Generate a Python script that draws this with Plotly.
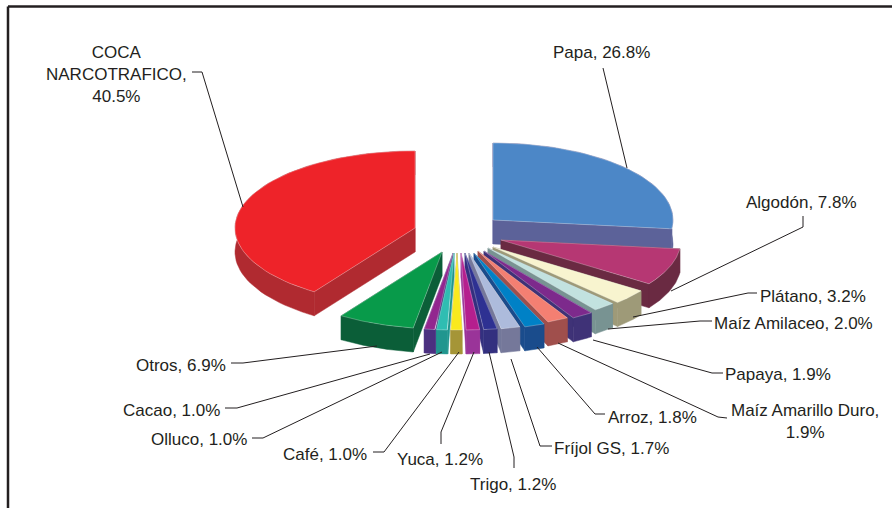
#!/usr/bin/env python
# -*- coding: utf-8 -*-
import numpy as np
from plotly import graph_objs as go

# clockwise from twelve o'clock
CROPS = ['Papa', 'Algodón', 'Plátano', 'Maíz Amilaceo', 'Papaya', 'Maíz Amarillo Duro',
         'Arroz', 'Fríjol GS', 'Trigo', 'Yuca', 'Café', 'Olluco', 'Cacao', 'Otros',
         'COCA NARCOTRAFICO']
SHARES = [26.8, 7.8, 3.2, 2.0, 1.9, 1.9, 1.8, 1.7, 1.2, 1.2, 1.0, 1.0, 1.0, 6.9, 40.5]

TOP_COLORS = ['#4C87C7', '#B63773', '#F8F4CF', '#C2E2DF', '#7D2A8C', '#F47F72', '#0081C6',
              '#ADBBDC', '#2E3192', '#B51F8E', '#F9E91E', '#2FBDB2', '#92278F', '#089A4A',
              '#EE2329']
SIDE_COLORS = ['#5C6299', '#6A2A42', '#9E9A78', '#789392', '#3F3277', '#A04F4C', '#1A4C8C',
               '#75789A', '#33307F', '#9A3499', '#A59537', '#21968F', '#4B3080', '#0B5E38',
               '#B02A30']

# how far each slice is pulled out of the pie, in pixels
PULL_X = [37, 45, 37, 32, 28, 22, 18, 13, 9, 5, 1, -2, -3, -14, -41]
PULL_Y = [-30, -10, -3, -2, 1, 1, 3, 3, 3, 3, 3, 3, 3, 2, -22]

CENTER_X, CENTER_Y = 456, 250
RADIUS_X, RADIUS_Y = 180, 77
DEPTH = 24

LABEL_TEXT = {
    'COCA NARCOTRAFICO': 'COCA<br>NARCOTRAFICO,<br>40.5%',
    'Maíz Amarillo Duro': 'Maíz Amarillo Duro,<br>1.9%',
}
LABEL_X = [601, 801, 813, 793, 778, 805, 652, 611, 513, 440, 325, 199, 171, 181, 116]
LABEL_Y = [52, 202, 296, 323, 374, 421, 417, 448, 484, 459, 454, 439, 410, 365, 74]

LEADERS = [
    [(603, 68), (627, 168)],
    [(803, 216), (803, 227), (671, 291)],
    [(757, 293), (748, 293), (633, 317)],
    [(712, 321), (700, 321), (608, 329)],
    [(723, 373), (712, 373), (593, 340)],
    [(727, 418), (718, 417), (558, 343)],
    [(605, 414), (595, 414), (537, 347)],
    [(552, 446), (540, 446), (511, 359)],
    [(514, 468), (514, 457), (489, 352)],
    [(441, 444), (441, 432), (474, 352)],
    [(373, 452), (384, 452), (459, 352)],
    [(252, 438), (263, 438), (442, 352)],
    [(225, 408), (237, 408), (430, 354)],
    [(231, 363), (243, 363), (377, 346)],
    [(192, 72), (202, 72), (243, 207)],
]


def add_polygon(fig, xs, ys, fill, line):
    fig.add_trace(go.Scatter(x=xs, y=ys, mode='lines', fill='toself', fillcolor=fill,
                             line=dict(color=line, width=0.5), hoverinfo='skip'))


def add_slice(fig, i, start, end):
    apex_x = CENTER_X + PULL_X[i]
    apex_y = CENTER_Y + PULL_Y[i]
    angles = np.linspace(start, end, 60)
    rim_x = apex_x + RADIUS_X * np.sin(angles)
    rim_y = apex_y - RADIUS_Y * np.cos(angles)
    side = SIDE_COLORS[i]

    # the two cut faces and the rim go below the top face
    for k in (0, -1):
        add_polygon(fig,
                    [apex_x, rim_x[k], rim_x[k], apex_x, apex_x],
                    [apex_y, rim_y[k], rim_y[k] + DEPTH, apex_y + DEPTH, apex_y],
                    side, side)
    add_polygon(fig,
                np.concatenate([rim_x, rim_x[::-1], rim_x[:1]]),
                np.concatenate([rim_y, rim_y[::-1] + DEPTH, rim_y[:1]]),
                side, side)
    add_polygon(fig,
                np.concatenate([[apex_x], rim_x, [apex_x]]),
                np.concatenate([[apex_y], rim_y, [apex_y]]),
                TOP_COLORS[i], 'rgba(255,255,255,0.55)')


fig = go.Figure()

total = sum(SHARES)
edges = 2 * np.pi * np.cumsum([0] + SHARES) / total
mids = (edges[:-1] + edges[1:]) / 2

# paint from the back of the pie to the front
for i in sorted(range(len(SHARES)), key=lambda n: -np.cos(mids[n])):
    add_slice(fig, i, edges[i], edges[i + 1])

for points in LEADERS:
    fig.add_trace(go.Scatter(x=[p[0] for p in points], y=[p[1] for p in points], mode='lines',
                             line=dict(color='#231F20', width=1), hoverinfo='skip'))

for crop, share, x, y in zip(CROPS, SHARES, LABEL_X, LABEL_Y):
    fig.add_annotation(x=x, y=y, text=LABEL_TEXT.get(crop, f'{crop}, {share}%'), showarrow=False,
                       xanchor='center', yanchor='middle', align='center',
                       font=dict(family='Liberation Sans', size=17, color='#231F20'))

# frame of the scanned page: only top and left edges are visible
fig.add_shape(type='line', x0=8, x1=892, y0=6.5, y1=6.5, line=dict(color='#231F20', width=2.5))
fig.add_shape(type='line', x0=8, x1=8, y0=6.5, y1=508, line=dict(color='#231F20', width=2.5))

fig.update_layout(
    width=892, height=508, margin=dict(l=0, r=0, t=0, b=0), showlegend=False,
    paper_bgcolor='white', plot_bgcolor='white',
    xaxis=dict(range=[0, 892], visible=False, fixedrange=True),
    yaxis=dict(range=[508, 0], visible=False, fixedrange=True),
)
# the page's default body margin would shift the whole chart by 8px
fig.write_html('out.html', config=dict(displayModeBar=False),
               post_script="document.body.style.margin='0';document.body.style.overflow='hidden';")
